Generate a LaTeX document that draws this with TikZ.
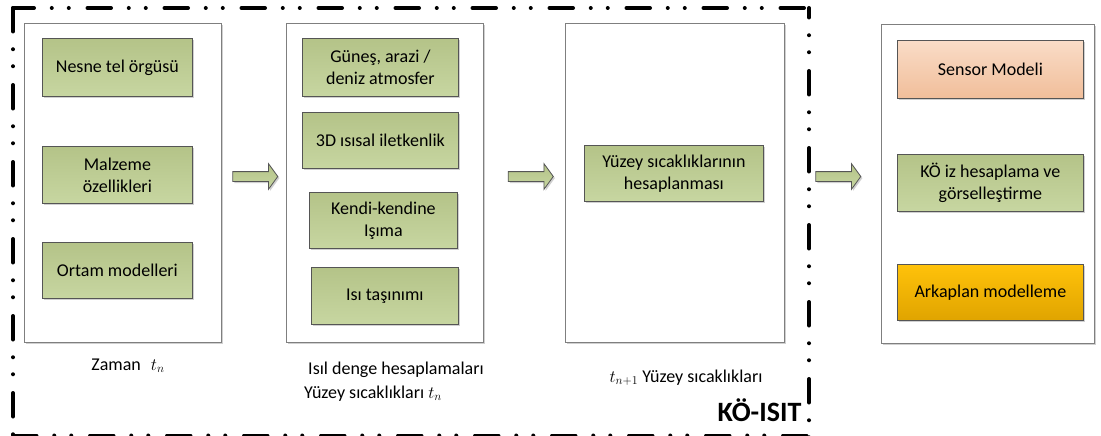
\documentclass[tikz,border=0pt]{standalone}
\usepackage{fontspec}
\setmainfont{Carlito}
\usetikzlibrary{shapes.arrows,shadows,calc}

\definecolor{panelline}{HTML}{7F7F7F}
\definecolor{boxline}{HTML}{555555}
\definecolor{greentop}{RGB}{180,195,136}
\definecolor{greenbot}{RGB}{199,214,161}
\definecolor{peachtop}{RGB}{249,220,199}
\definecolor{peachbot}{RGB}{241,190,154}
\definecolor{goldtop}{RGB}{255,194,10}
\definecolor{goldbot}{RGB}{224,164,0}

\begin{document}
\begin{tikzpicture}[x=1pt,y=-1pt,
  font=\fontsize{18}{22}\selectfont,
  softshadow/.style={drop shadow={shadow xshift=1.6pt,shadow yshift=-1.6pt,opacity=0.3,fill=black!60}},
  panel/.style={draw=panelline,line width=0.9pt,fill=white,anchor=north west,
    inner sep=0pt,softshadow},
  stepbox/.style={draw=boxline,line width=0.8pt,anchor=north west,align=center,
    inner sep=2pt,softshadow},
  greenbox/.style={stepbox,top color=greentop,bottom color=greenbot},
  peachbox/.style={stepbox,top color=peachtop,bottom color=peachbot},
  goldbox/.style={stepbox,top color=goldtop,bottom color=goldbot},
  blockarrow/.style={single arrow,draw=boxline,line width=0.8pt,
    top color=greentop,bottom color=greenbot,
    minimum height=45pt,minimum width=25pt,inner xsep=0pt,inner ysep=4.5pt,
    single arrow head extend=8pt,single arrow tip angle=108,softshadow},
  frame/.style={line width=4pt,line cap=round,
    dash pattern=on 23.5pt off 17.75pt on 0pt off 17pt on 0pt off 18.75pt},
  label/.style={anchor=base,inner sep=0pt}
]
\useasboundingbox[fill=white] (0,0) rectangle (1101,436);

% dash-dot frame around the simulation stages
\draw[frame,dash phase=2.5pt] (13,8) -- (809,8);
\draw[frame] (13,8) -- (13,440);
\draw[frame,dash phase=14pt] (809,8) -- (809,440);
\draw[frame] (13,435.5) -- (809,435.5);

% stage panels
\node[panel,minimum width=197pt,minimum height=319pt] (p1) at (24,23) {};
\node[panel,minimum width=197pt,minimum height=319pt] (p2) at (286,23) {};
\node[panel,minimum width=219pt,minimum height=319pt] (p3) at (565,23) {};
\node[panel,minimum width=213pt,minimum height=319pt] (p4) at (881,24) {};

% stage 1: inputs
\node[greenbox,minimum width=150pt,minimum height=58pt] (b11) at (42,38) {Nesne tel örgüsü};
\node[greenbox,minimum width=150pt,minimum height=57pt] (b12) at (42,146) {Malzeme\\özellikleri};
\node[greenbox,minimum width=150pt,minimum height=56pt] (b13) at (42,242) {Ortam modelleri};

% stage 2: heat balance terms
\node[greenbox,minimum width=156pt,minimum height=58pt] (b21) at (302,38) {Güneş, arazi /\\deniz atmosfer};
\node[greenbox,minimum width=156pt,minimum height=56pt] (b22) at (302,112) {3D ısısal iletkenlik};
\node[greenbox,minimum width=148pt,minimum height=56pt] (b23) at (309,192) {Kendi-kendine\\Işıma};
\node[greenbox,minimum width=147pt,minimum height=57pt] (b24) at (311,267) {Isı taşınımı};

% stage 3: surface temperatures
\node[greenbox,minimum width=179pt,minimum height=56pt] (b31) at (584,145) {Yüzey sıcaklıklarının\\hesaplanması};

% stage 4: sensor and scene
\node[peachbox,minimum width=186pt,minimum height=58pt] (b41) at (897,40) {Sensor Modeli};
\node[greenbox,minimum width=186pt,minimum height=57pt] (b42) at (897,154) {KÖ iz hesaplama ve\\görselleştirme};
\node[goldbox,minimum width=186pt,minimum height=56pt] (b43) at (897,264) {Arkaplan modelleme};

% flow arrows between the stages
\node[blockarrow] (a1) at (253.5,176.5) {};
\node[blockarrow] (a2) at (529,176.5) {};
\node[blockarrow] (a3) at (836.5,176.5) {};

% captions
\node[label] (c1) at (128,370) {Zaman\hspace{10pt}$t_n$};
\node[label] (c2) at (396,374) {Isıl denge hesaplamaları};
\node[label] (c3) at (373,398) {Yüzey sıcaklıkları $t_n$};
\node[label] (c4) at (686,382) {$t_{n+1}$ Yüzey sıcaklıkları};
\node[label,font=\fontsize{28}{32}\selectfont\bfseries] (c5) at (759.5,421) {KÖ-ISIT};
\end{tikzpicture}
\end{document}
